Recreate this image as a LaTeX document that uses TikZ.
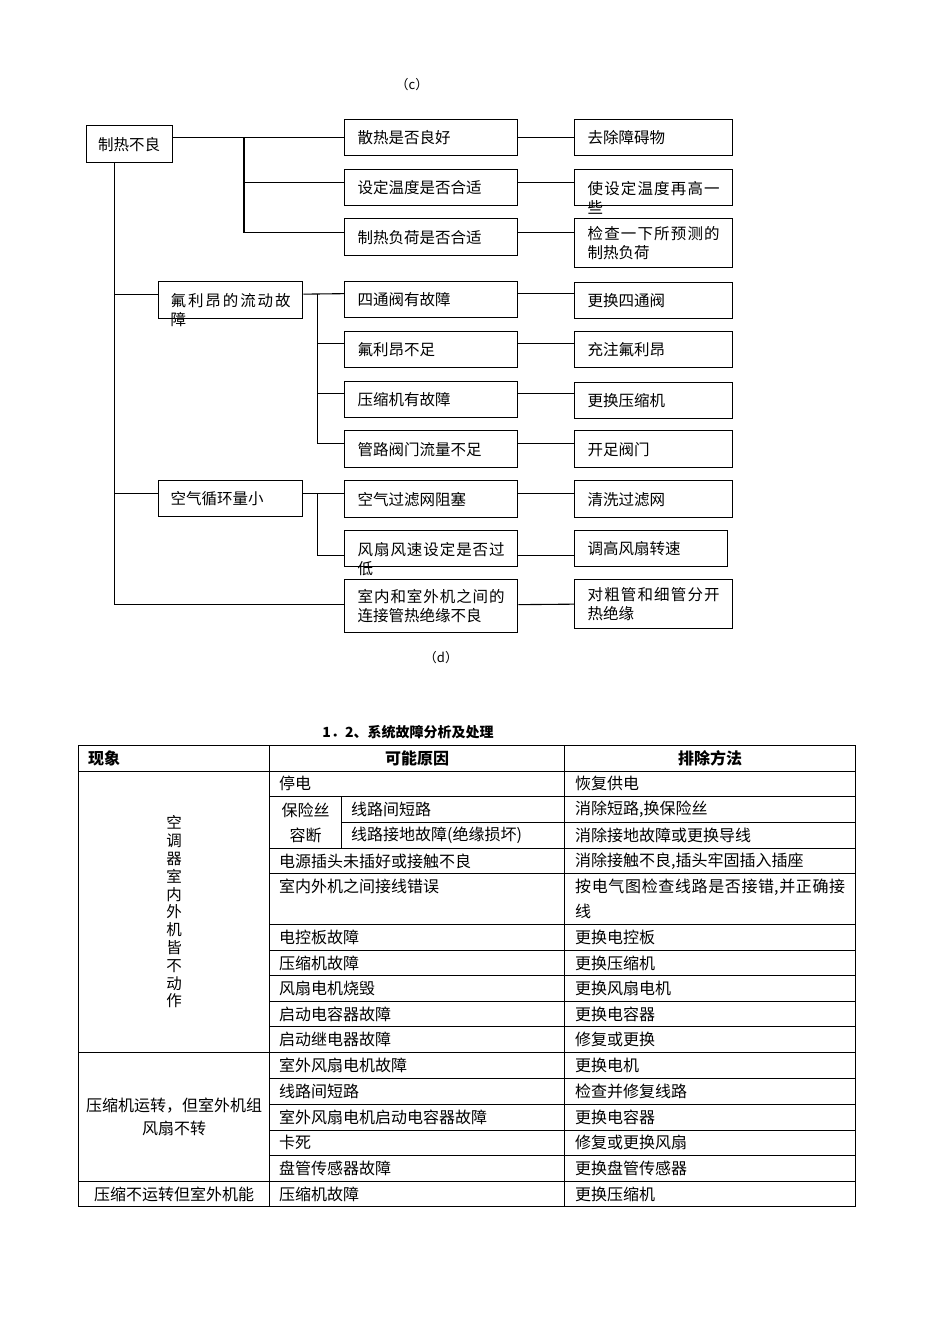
\documentclass[tikz,border=0pt]{standalone}
\usepackage{fontspec}
\setmainfont{Noto Sans CJK SC}
\XeTeXlinebreaklocale "zh"
\XeTeXlinebreakskip=0pt plus 2pt
\newcommand{\boxfont}{\fontsize{15.5}{19}\selectfont}
\newcommand{\cellfont}{\fontsize{16}{25}\selectfont}

\begin{document}
\begin{tikzpicture}[x=1pt, y=-1pt,
    box/.style={rectangle, draw, line width=1.3pt, anchor=north west, inner xsep=13pt, inner ysep=0pt, font=\boxfont, align=justify, text width=147pt, minimum height=36pt},
    fix/.style={box, text width=132pt},
    group/.style={box, inner xsep=12pt, text width=120pt},
    spill/.style={text depth=0pt},
    line/.style={draw, line width=1.1pt},
    grid/.style={draw, line width=1pt},
    cell/.style={anchor=west, inner sep=0pt, font=\cellfont},
    head/.style={inner sep=0pt, font=\cellfont\bfseries},
    caption/.style={inner sep=0pt, font=\fontsize{13}{15}\selectfont}
]
    \useasboundingbox [fill=white] (0,0) rectangle (950,1344);

    % Fault tree
    \node [caption] (capc) at (412,85) {（c）};
    \node [box, inner xsep=11.5pt, text width=63pt, minimum height=37pt] (root) at (86,125) {制热不良};
    \node [group, spill, minimum height=37pt] (freon) at (158,281) {氟利昂的流动故障};
    \node [group] (air) at (158,480) {空气循环量小};

    % Causes
    \node [box] (heat) at (344,119) {散热是否良好};
    \node [box] (temp) at (344,169) {设定温度是否合适};
    \node [box, minimum height=37pt] (load) at (344,218) {制热负荷是否合适};
    \node [box] (valve) at (344,281) {四通阀有故障};
    \node [box] (lack) at (344,331) {氟利昂不足};
    \node [box] (comp) at (344,381) {压缩机有故障};
    \node [box, minimum height=37pt] (pipe) at (344,430) {管路阀门流量不足};
    \node [box, minimum height=37pt] (filter) at (344,480) {空气过滤网阻塞};
    \node [box, spill] (fan) at (344,530) {风扇风速设定是否过低};
    \node [box, minimum height=53pt] (insul) at (344,579) {室内和室外机之间的连接管热绝缘不良};

    % Remedies
    \node [fix] (clear) at (574,119) {去除障碍物};
    \node [fix, spill] (raise) at (574,169) {使设定温度再高一些};
    \node [fix, minimum height=49pt] (check) at (574,218) {检查一下所预测的制热负荷};
    \node [fix] (newvalve) at (574,282) {更换四通阀};
    \node [fix] (charge) at (574,331) {充注氟利昂};
    \node [fix] (newcomp) at (574,382) {更换压缩机};
    \node [fix, minimum height=37pt] (open) at (574,430) {开足阀门};
    \node [fix, minimum height=37pt] (wash) at (574,480) {清洗过滤网};
    \node [fix, text width=127pt] (speed) at (574,530) {调高风扇转速};
    \node [fix, minimum height=49pt] (wrap) at (574,579) {对粗管和细管分开热绝缘};
    \node [caption] (capd) at (441,658) {（d）};

    % Junctions
    \coordinate (j1) at (244,137);
    \coordinate (t0) at ([xshift=-15pt]root.south);
    \coordinate (j2) at ([xshift=14pt, yshift=6pt]freon.east);
    \coordinate (j3) at ([xshift=14pt, yshift=5pt]air.east);

    % Root branches
    \path [line] (root.east |- heat.west) -- (heat.west);
    \path [line] (j1) |- ([yshift=5pt]temp.west);
    \path [line] (j1) |- ([yshift=4.5pt]load.west);
    \path [line] (t0) |- ([yshift=6pt]freon.west);
    \path [line] (t0) |- ([yshift=5pt]air.west);
    \path [line] (t0) |- ([yshift=1.5pt]insul.west);

    % Group branches
    \path [line] ([yshift=6pt]freon.east) -- ([yshift=6pt]valve.west);
    \path [line] (j2) |- ([yshift=6pt]lack.west);
    \path [line] (j2) |- ([yshift=6pt]comp.west);
    \path [line] (j2) |- ([yshift=5.5pt]pipe.west);
    \path [line] ([yshift=5pt]air.east) -- ([yshift=5.5pt]filter.west);
    \path [line] (j3) |- ([yshift=-7pt]fan.west);

    % Cause to remedy
    \path [line] (heat.east) -- (clear.west);
    \path [line] ([yshift=5pt]temp.east) -- ([yshift=5pt]raise.west);
    \path [line] ([yshift=4.5pt]load.east) -- ([yshift=10.5pt]check.west);
    \path [line] ([yshift=6pt]valve.east) -- ([yshift=7pt]newvalve.west);
    \path [line] ([yshift=6pt]lack.east) -- ([yshift=6pt]charge.west);
    \path [line] ([yshift=6pt]comp.east) -- ([yshift=7pt]newcomp.west);
    \path [line] ([yshift=5.5pt]pipe.east) -- ([yshift=5.5pt]open.west);
    \path [line] ([yshift=5.5pt]filter.east) -- ([yshift=5.5pt]wash.west);
    \path [line] ([yshift=-7pt]fan.east) -- ([yshift=-7pt]speed.west);
    \path [line] ([yshift=1.5pt]insul.east) -- (wrap.west);

    % Table
    \node [head, font=\fontsize{14}{16}\selectfont\bfseries] (title) at (408,732) {1．2、系统故障分析及处理};
    \draw [grid] (78,745.7) rectangle (855.3,1206.7);
    \draw [grid] (269.3,745.7) -- (269.3,1206.7) (564.3,745.7) -- (564.3,1206.7) (341.7,796.3) -- (341.7,848);
    \draw [grid] (78,771) -- (855.3,771) (78,1052.7) -- (855.3,1052.7) (78,1181) -- (855.3,1181);
    \draw [grid] (341.7,822.3) -- (855.3,822.3)
        (269.3,796.3) -- (855.3,796.3) (269.3,848) -- (855.3,848)
        (269.3,873.7) -- (855.3,873.7) (269.3,924.3) -- (855.3,924.3)
        (269.3,950) -- (855.3,950) (269.3,975.7) -- (855.3,975.7)
        (269.3,1001.3) -- (855.3,1001.3) (269.3,1026.7) -- (855.3,1026.7)
        (269.3,1078.3) -- (855.3,1078.3) (269.3,1104.3) -- (855.3,1104.3)
        (269.3,1130) -- (855.3,1130) (269.3,1155.7) -- (855.3,1155.7);

    % Header
    \node [head, anchor=west] (h1) at (88,758) {现象};
    \node [head] (h2) at (417,758) {可能原因};
    \node [head] (h3) at (710,758) {排除方法};

    % Symptoms
    \node [cell, anchor=center, align=center, font=\fontsize{15.5}{17.8}\selectfont] (p1) at (174,912) {空\\调\\器\\室\\内\\外\\机\\皆\\不\\动\\作};
    \node [cell, anchor=center, align=center, font=\fontsize{16}{23}\selectfont] (p2) at (174,1117) {压缩机运转，但室外机组\\风扇不转};
    \node [cell, anchor=center] (p3) at (174,1194) {压缩不运转但室外机能};

    % Causes
    \node [cell] (c1) at (279,783.7) {停电};
    \node [cell, anchor=center] (fuse1) at (305.5,810) {保险丝};
    \node [cell, anchor=center] (fuse2) at (305.5,835) {容断};
    \node [cell] (c2) at (351,809.3) {线路间短路};
    \node [cell] (c3) at (351,835.2) {线路接地故障(绝缘损坏)};
    \node [cell] (c4) at (279,860.9) {电源插头未插好或接触不良};
    \node [cell] (c5) at (279,886.7) {室内外机之间接线错误};
    \node [cell] (c6) at (279,937.2) {电控板故障};
    \node [cell] (c7) at (279,962.9) {压缩机故障};
    \node [cell] (c8) at (279,988.5) {风扇电机烧毁};
    \node [cell] (c9) at (279,1014) {启动电容器故障};
    \node [cell] (c10) at (279,1039.7) {启动继电器故障};
    \node [cell] (c11) at (279,1065.5) {室外风扇电机故障};
    \node [cell] (c12) at (279,1091.3) {线路间短路};
    \node [cell] (c13) at (279,1117.2) {室外风扇电机启动电容器故障};
    \node [cell] (c14) at (279,1142.9) {卡死};
    \node [cell] (c15) at (279,1168.4) {盘管传感器故障};
    \node [cell] (c16) at (279,1193.9) {压缩机故障};

    % Remedies
    \node [cell] (r1) at (575,783.7) {恢复供电};
    \node [cell] (r2) at (575,809.3) {消除短路,换保险丝};
    \node [cell] (r3) at (575,835.2) {消除接地故障或更换导线};
    \node [cell] (r4) at (575,860.9) {消除接触不良,插头牢固插入插座};
    \node [cell, anchor=base west, text width=270pt, align=justify] (r5) at (575,892.4) {按电气图检查线路是否接错,并正确接线};
    \node [cell] (r6) at (575,937.2) {更换电控板};
    \node [cell] (r7) at (575,962.9) {更换压缩机};
    \node [cell] (r8) at (575,988.5) {更换风扇电机};
    \node [cell] (r9) at (575,1014) {更换电容器};
    \node [cell] (r10) at (575,1039.7) {修复或更换};
    \node [cell] (r11) at (575,1065.5) {更换电机};
    \node [cell] (r12) at (575,1091.3) {检查并修复线路};
    \node [cell] (r13) at (575,1117.2) {更换电容器};
    \node [cell] (r14) at (575,1142.9) {修复或更换风扇};
    \node [cell] (r15) at (575,1168.4) {更换盘管传感器};
    \node [cell] (r16) at (575,1193.9) {更换压缩机};

\end{tikzpicture}
\end{document}
